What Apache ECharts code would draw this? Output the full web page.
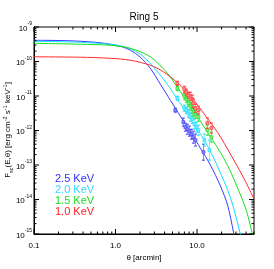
<!DOCTYPE html>
<html><head><meta charset="utf-8">
<script src="https://cdn.jsdelivr.net/npm/echarts@6/dist/echarts.min.js"></script>
<style>html,body{margin:0;padding:0;background:#fff}#c{width:274px;height:269px}</style>
</head><body><div id="c"></div>
<script>
// ---- labels ----
const titleText = 'Ring 5';
const energyLabels = ['2.5 KeV', '2.0 KeV', '1.5 KeV', '1.0 KeV'];
const xTickLabels = ['0.1', '1.0', '10.0'];
const xRange = [0.1, 50];
const yRange = [1e-15, 1e-9];

// ---- model curves (theta [arcmin], flux) ----
const theta25 = [0.1,0.277,0.649,1.14,1.52,2.01,2.67,3.55,4.71,6.25,8.30,11.0,14.6,19.4,23.7,28.0,30.5];
const flux25  = [4.12e-10,3.99e-10,3.49e-10,2.76e-10,2.12e-10,1.33e-10,6.38e-11,2.20e-11,7.55e-12,2.60e-12,8.95e-13,3.08e-13,9.93e-14,2.45e-14,6.90e-15,1.14e-15,3.44e-16];
const theta20 = [0.1,0.368,0.861,1.14,1.52,2.01,2.67,3.55,4.32,5.74,7.62,10.1,12.7,17.8,25.8,34.2,37.2];
const flux20  = [3.86e-10,3.61e-10,3.16e-10,2.86e-10,2.34e-10,1.62e-10,8.89e-11,4.00e-11,2.20e-11,8.08e-12,2.97e-12,1.09e-12,4.60e-13,9.29e-14,1.10e-14,9.35e-16,3.44e-16];
const theta15 = [0.1,0.368,0.861,1.52,2.67,4.32,5.74,8.30,11.6,14.6,19.4,24.3,34.2,40.5,48.0,50];
const flux15  = [3.38e-10,3.16e-10,2.95e-10,2.42e-10,1.37e-10,4.57e-11,1.80e-11,5.07e-12,1.53e-12,6.64e-13,2.29e-13,8.69e-14,1.35e-14,4.63e-15,9.35e-16,4.81e-16];
const theta10 = [0.1,0.368,0.861,1.52,2.67,3.86,5.74,8.78,12.7,17.8,21.7,31.4,39.4,50];
const flux10  = [1.37e-10,1.33e-10,1.24e-10,1.09e-10,7.79e-11,5.05e-11,2.43e-11,8.36e-12,2.69e-12,8.95e-13,4.16e-13,9.00e-14,3.31e-14,1.03e-14];

// ---- measured points with error bars ----
const ptTheta25 = [5.42,6.80,7.20,7.62,8.07,8.53,9.03,9.56,12.0];
const ptFlux25  = [3.88e-12,1.75e-12,1.25e-12,1.09e-12,9.57e-13,7.84e-13,6.42e-13,5.26e-13,2.36e-13];
const ptLo25    = [3.40e-12,1.34e-12,9.57e-13,7.8e-13,6.86e-13,5.6e-13,4.3e-13,3.53e-13,1.38e-13];
const ptHi25    = [4.43e-12,2.29e-12,1.63e-12,1.52e-12,1.34e-12,1.09e-12,9.58e-13,7.85e-13,4.02e-13];

const ptTheta20 = [5.74,7.00,7.41,7.84,8.30,8.78,9.29,9.84,10.4,12.3,14.2];
const ptFlux20  = [8.63e-12,4.44e-12,3.88e-12,3.18e-12,2.43e-12,2.13e-12,1.53e-12,1.25e-12,1.02e-12,5.26e-13,2.70e-13];
const ptLo20    = [7.55e-12,3.63e-12,3.18e-12,2.43e-12,1.86e-12,1.63e-12,1.10e-12,8.95e-13,7.3e-13,3.53e-13,1.39e-13];
const ptHi20    = [9.86e-12,5.43e-12,4.74e-12,4.15e-12,3.17e-12,2.78e-12,2.14e-12,1.75e-12,1.42e-12,7.85e-13,5.26e-13];

const ptTheta15 = [5.74,7.00,7.41,7.84,8.30,8.78,9.03,9.56,10.4,13.4,15.0];
const ptFlux15  = [1.63e-11,9.86e-12,8.08e-12,6.19e-12,5.07e-12,4.15e-12,3.40e-12,2.97e-12,2.43e-12,1.02e-12,6.42e-13];
const ptLo15    = [1.43e-11,8.07e-12,6.61e-12,5.07e-12,3.88e-12,3.18e-12,2.60e-12,2.27e-12,1.86e-12,7.3e-13,4.6e-13];
const ptHi15    = [1.86e-11,1.20e-11,9.87e-12,7.56e-12,6.62e-12,5.42e-12,4.44e-12,3.88e-12,3.17e-12,1.42e-12,8.96e-13];

const ptTheta10 = [5.74,7.00,7.41,7.84,8.30,8.78,9.03,9.56,10.4,13.4,15.0];
const ptFlux10  = [2.34e-11,1.57e-11,1.29e-11,1.05e-11,9.86e-12,8.08e-12,6.19e-12,4.44e-12,3.88e-12,1.63e-12,1.17e-12];
const ptLo10    = [2.05e-11,1.28e-11,1.06e-11,8.6e-12,7.55e-12,6.19e-12,4.74e-12,3.40e-12,2.97e-12,1.17e-12,8.4e-13];
const ptHi10    = [2.67e-11,1.92e-11,1.58e-11,1.28e-11,1.29e-11,1.06e-11,8.08e-12,5.80e-12,5.07e-12,2.28e-12,1.63e-12];

// ---- styles ----
const lineColors = ['#3a3aff', '#10dcff', '#18e018', '#ff2a2a'];
const textColors = ['#3030ff', '#30d8ff', '#20e020', '#ff2020'];
const barColors  = ['#8a8ae8', '#80e8ff', '#80e880', '#ff9090'];

const curves = [[theta25, flux25], [theta20, flux20], [theta15, flux15], [theta10, flux10]];
const points = [
  [ptTheta25, ptFlux25, ptLo25, ptHi25],
  [ptTheta20, ptFlux20, ptLo20, ptHi20],
  [ptTheta15, ptFlux15, ptLo15, ptHi15],
  [ptTheta10, ptFlux10, ptLo10, ptHi10]
];

// tick positions (axis decoration)
const xMajor = [0.1, 1, 10];
const xMinor = [];
[0.1, 1, 10].forEach(d => { for (let k = 2; k <= 9; k++) { const v = k * d; if (v <= 50) xMinor.push(+v.toPrecision(3)); } });
const yMajor = [];
const yMinor = [];
for (let e = -15; e <= -9; e++) { yMajor.push(Math.pow(10, e)); if (e < -9) for (let k = 2; k <= 9; k++) yMinor.push(k * Math.pow(10, e)); }

const FONT = 'Liberation Sans, Arial, Helvetica, sans-serif';

function errRender(idx) {
  return function (params, api) {
    const x = api.value(0), y = api.value(1), lo = api.value(2), hi = api.value(3);
    const p = api.coord([x, y]), a = api.coord([x, lo]), b = api.coord([x, hi]);
    const cap = 1.5;
    const c = lineColors[idx], bc = barColors[idx];
    return { type: 'group', children: [
      { type: 'line', shape: { x1: a[0], y1: a[1], x2: b[0], y2: b[1] }, style: { stroke: bc, lineWidth: 1 } },
      { type: 'line', shape: { x1: a[0] - cap, y1: a[1], x2: a[0] + cap, y2: a[1] }, style: { stroke: c, lineWidth: 1 } },
      { type: 'line', shape: { x1: b[0] - cap, y1: b[1], x2: b[0] + cap, y2: b[1] }, style: { stroke: c, lineWidth: 1 } },
      { type: 'rect', shape: { x: p[0] - 1.5, y: p[1] - 1.5, width: 3, height: 3 }, style: { fill: bc, stroke: c, lineWidth: 0.6 } }
    ]};
  };
}

function xTickRender(params, api) {
  const v = api.value(0), major = api.value(2);
  const len = major ? 5 : 2.5;
  const b = api.coord([v, yRange[0]]), t = api.coord([v, yRange[1]]);
  return { type: 'group', children: [
    { type: 'line', shape: { x1: b[0], y1: b[1], x2: b[0], y2: b[1] - len }, style: { stroke: '#000', lineWidth: 1 } },
    { type: 'line', shape: { x1: t[0], y1: t[1], x2: t[0], y2: t[1] + len }, style: { stroke: '#000', lineWidth: 1 } }
  ]};
}
function yTickRender(params, api) {
  const v = api.value(1), major = api.value(2);
  const len = major ? 5 : 2.5;
  const l = api.coord([xRange[0], v]), r = api.coord([xRange[1], v]);
  return { type: 'group', children: [
    { type: 'line', shape: { x1: l[0], y1: l[1], x2: l[0] + len, y2: l[1] }, style: { stroke: '#000', lineWidth: 1 } },
    { type: 'line', shape: { x1: r[0], y1: r[1], x2: r[0] - len, y2: r[1] }, style: { stroke: '#000', lineWidth: 1 } }
  ]};
}

const series = [];
curves.forEach((c, i) => {
  series.push({
    name: energyLabels[i], type: 'line', symbol: 'none', smooth: 0.3, clip: true,
    lineStyle: { color: lineColors[i], width: 1 },
    data: c[0].map((t, j) => [t, c[1][j]]), z: 3
  });
});
points.forEach((p, i) => {
  series.push({
    type: 'custom', renderItem: errRender(i), clip: true, z: 4,
    encode: { x: 0, y: 1 },
    data: p[0].map((t, j) => [t, p[1][j], p[2][j], p[3][j]])
  });
});
series.push({
  type: 'custom', renderItem: xTickRender, silent: true, z: 5, encode: { x: 0, y: 1 },
  data: xMajor.map(v => [v, yRange[0], 1]).concat(xMinor.map(v => [v, yRange[0], 0]))
});
series.push({
  type: 'custom', renderItem: yTickRender, silent: true, z: 5, encode: { x: 0, y: 1 },
  data: yMajor.map(v => [xRange[0], v, 1]).concat(yMinor.map(v => [xRange[0], v, 0]))
});

const chart = echarts.init(document.getElementById('c'), null, { renderer: 'canvas' });
chart.setOption({
  animation: false,
  backgroundColor: '#fff',
  grid: { left: 34, right: 20, top: 27, bottom: 35, show: true, borderColor: '#000', borderWidth: 1, backgroundColor: 'transparent' },
  xAxis: {
    type: 'log', logBase: 10, min: xRange[0], max: xRange[1],
    axisLine: { show: true, lineStyle: { color: '#000', width: 1 } },
    axisTick: { show: false }, splitLine: { show: false },
    axisLabel: {
      color: '#000', fontSize: 8, fontFamily: FONT, margin: 8, showMinLabel: true, showMaxLabel: false,
      formatter: function (v) {
        const e = Math.log10(v);
        if (Math.abs(e - Math.round(e)) > 1e-6) return '';
        const i = Math.round(e) + 1;
        return xTickLabels[i] !== undefined ? xTickLabels[i] : '';
      }
    }
  },
  yAxis: {
    type: 'log', logBase: 10, min: yRange[0], max: yRange[1],
    axisLine: { show: true, lineStyle: { color: '#000', width: 1 } },
    axisTick: { show: false }, splitLine: { show: false },
    axisLabel: {
      color: '#000', fontFamily: FONT, margin: 2, showMinLabel: true, showMaxLabel: true,
      formatter: function (v) {
        const e = Math.round(Math.log10(v));
        return '{b|10}{s|' + e + '}';
      },
      rich: {
        b: { fontSize: 8, fontFamily: FONT, color: '#000', lineHeight: 11, verticalAlign: 'bottom' },
        s: { fontSize: 5, fontFamily: FONT, color: '#000', verticalAlign: 'top' }
      }
    }
  },
  graphic: [
    { type: 'text', x: 144, y: 17, style: { text: titleText, fill: '#000', font: '10px ' + FONT, align: 'center', verticalAlign: 'middle' } },
    { type: 'text', x: 144, y: 258, style: { text: 'θ [arcmin]', fill: '#000', font: '8px ' + FONT, align: 'center', verticalAlign: 'middle' } },
    { type: 'text', x: 8, y: 130, rotation: Math.PI / 2,
      style: {
        text: '{a|F}{sub|sc}{a|(E,θ) [erg cm}{sup|-2}{a| s}{sup|-1}{a| keV}{sup|-1}{a|]}',
        align: 'center', verticalAlign: 'middle', fill: '#000',
        rich: {
          a: { fontSize: 8, fontFamily: FONT, fill: '#000', lineHeight: 12, verticalAlign: 'middle' },
          sub: { fontSize: 5.5, fontFamily: FONT, fill: '#000', verticalAlign: 'bottom' },
          sup: { fontSize: 5.5, fontFamily: FONT, fill: '#000', verticalAlign: 'top' }
        }
      } },
    ...energyLabels.map((t, i) => ({
      type: 'text', x: 55, y: 179 + i * 10.9,
      style: { text: t, fill: textColors[i], font: '11px ' + FONT, align: 'left', verticalAlign: 'middle' }
    }))
  ],
  series: series
});
</script>
</body></html>
